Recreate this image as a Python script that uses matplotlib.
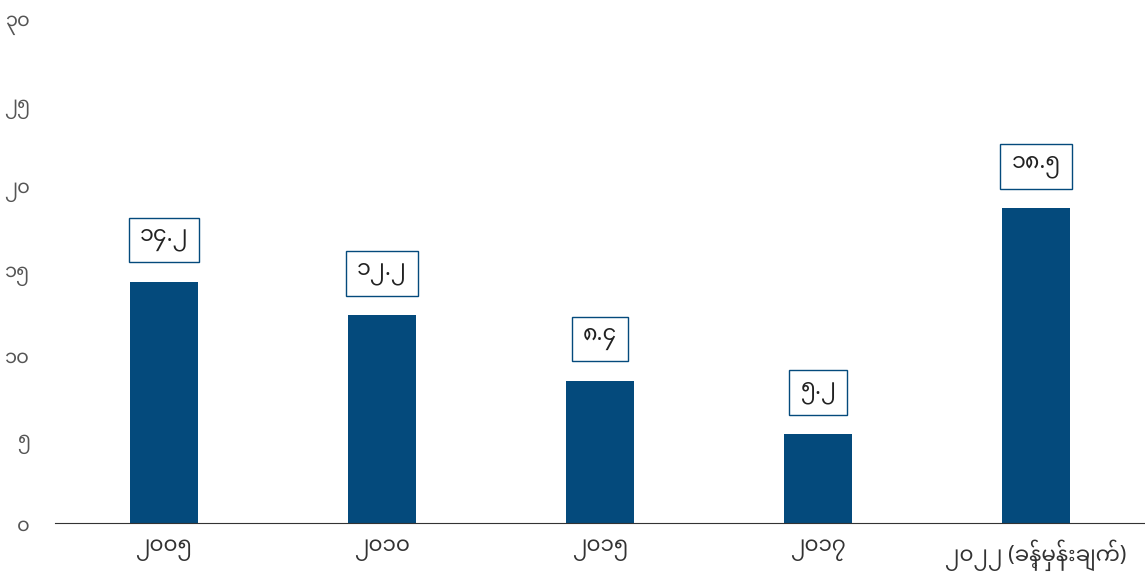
import matplotlib
matplotlib.use("Agg")
import matplotlib.pyplot as plt
from matplotlib import font_manager

categories = ["၂၀၀၅", "၂၀၁၀", "၂၀၁၅", "၂၀၁၇", "၂၀၂၂ (ခန့်မှန်းချက်)"]
values = [14.4, 12.4, 8.5, 5.3, 18.8]
value_labels = ["၁၄.၂", "၁၂.၂", "၈.၄", "၅.၂", "၁၈.၅"]
yticks = [0, 5, 10, 15, 20, 25, 30]
ytick_labels = ["၀", "၅", "၁၀", "၁၅", "၂၀", "၂၅", "၃၀"]

names = sorted({f.name for f in font_manager.fontManager.ttflist})
fams = [n for n in ["Noto Sans Myanmar", "Padauk", "Myanmar Text", "Noto Sans", "DejaVu Sans"] if n in names]
plt.rcParams['font.family'] = fams

fig = plt.figure(figsize=(11.45, 5.77), dpi=100)
ax = fig.add_axes([0.048, 0.0936, 0.952, 0.8714])
navy = "#044a7c"
x = list(range(len(categories)))
ax.bar(x, values, width=0.31, color=navy, zorder=2)
for xi, v, lab in zip(x, values, value_labels):
    ax.annotate(lab, (xi, v), xytext=(0, 30), textcoords="offset points",
                ha="center", va="center", fontsize=16, color="#222222",
                bbox=dict(boxstyle="square,pad=0.5", fc="white", ec=navy, lw=1))
ax.set_xlim(-0.5, 4.5)
ax.set_ylim(0, 30)
ax.set_yticks(yticks)
ax.set_yticklabels(ytick_labels)
ax.set_xticks(x)
ax.set_xticklabels(categories)
for s in ["top", "right", "left"]:
    ax.spines[s].set_visible(False)
ax.spines["bottom"].set_color("#333333")
ax.tick_params(axis="y", length=0, labelsize=14, labelcolor="#555555", pad=18)
ax.tick_params(axis="x", length=0, labelsize=15.5, labelcolor="#333333", pad=12)
fig.savefig("out.png", dpi=100)
